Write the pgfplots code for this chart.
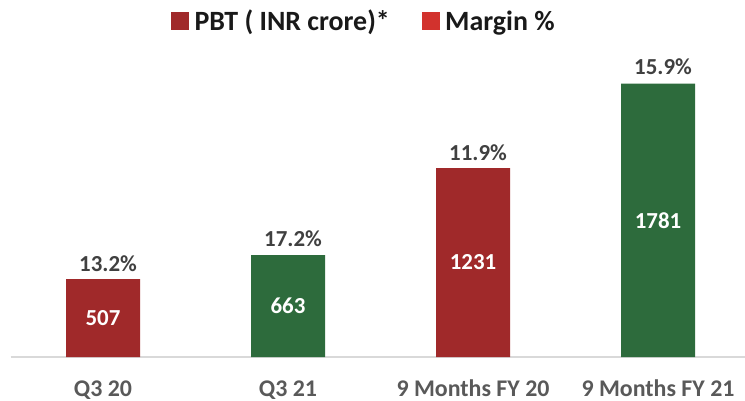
\documentclass[border=0pt]{standalone}
\usepackage{pgfplots}
\pgfplotsset{compat=1.18}
\usepackage{pgfplotstable}
\usepackage{fontspec}
\setmainfont{Carlito}
\definecolor{barred}{HTML}{A0292A}
\definecolor{bargreen}{HTML}{2D6B3C}
\definecolor{legred}{HTML}{D2322D}
\definecolor{axisgray}{HTML}{D9D9D9}
\definecolor{labgray}{HTML}{595959}
\definecolor{pctgray}{HTML}{404040}

\pgfplotstableread{
x y m
0 507 13.2
2 1231 11.9
}\redbars
\pgfplotstableread{
x y m
1 663 17.2
3 1781 15.9
}\greenbars

\begin{document}
\begin{tikzpicture}
\useasboundingbox (0,0) rectangle (745bp,401bp);
\begin{axis}[
  at={(10.5bp,44bp)}, anchor=south west,
  x=185bp, y=0.1535bp,
  xmin=-0.5, xmax=3.48, ymin=0, ymax=2326,
  clip=false,
  axis x line*=bottom, axis y line=none,
  x axis line style={draw=axisgray, line width=1.5bp, -},
  xtick={0,1,2,3},
  xticklabels={Q3 20, Q3 21, 9 Months FY 20, 9 Months FY 21},
  major tick length=0pt,
  xticklabel style={font=\bfseries\fontsize{24}{28}\selectfont, text=labgray, anchor=base, yshift=-39bp},
  /pgf/number format/assume math mode=true,
  /pgf/number format/1000 sep={},
  legend style={at={(0.48,0.941)}, anchor=center, draw=none, fill=none,
    font=\bfseries\fontsize{28}{32}\selectfont, text=black!90,
    /tikz/every even column/.append style={column sep=30bp}},
  legend columns=2,
  legend cell align=left,
]
% value bars (labels centred inside)
\addplot[ybar, bar shift=0pt, bar width=74bp, fill=barred, draw=none, forget plot,
  visualization depends on={y \as \rawy},
  nodes near coords,
  every node near coord/.style={anchor=center, yshift={-0.07704*\rawy}, text=white,
    font=\bfseries\fontsize{23}{26}\selectfont}]
  table[x=x, y=y] {\redbars};
\addplot[ybar, bar shift=0pt, bar width=74bp, fill=bargreen, draw=none, forget plot,
  visualization depends on={y \as \rawy},
  nodes near coords,
  every node near coord/.style={anchor=center, yshift={-0.07704*\rawy}, text=white,
    font=\bfseries\fontsize{23}{26}\selectfont}]
  table[x=x, y=y] {\greenbars};
% margin labels above bars
\addplot[ybar, bar shift=0pt, bar width=74bp, draw=none, fill=none, forget plot,
  point meta=explicit,
  nodes near coords={\pgfmathprintnumber[fixed, fixed zerofill, precision=1]{\pgfplotspointmeta}\%},
  every node near coord/.style={anchor=south, xshift=5bp, yshift=4bp, text=pctgray,
    font=\bfseries\fontsize{23}{26}\selectfont}]
  table[x=x, y=y, meta=m] {\redbars};
\addplot[ybar, bar shift=0pt, bar width=74bp, draw=none, fill=none, forget plot,
  point meta=explicit,
  nodes near coords={\pgfmathprintnumber[fixed, fixed zerofill, precision=1]{\pgfplotspointmeta}\%},
  every node near coord/.style={anchor=south, xshift=5bp, yshift=5bp, text=pctgray,
    font=\bfseries\fontsize{23}{26}\selectfont}]
  table[x=x, y=y, meta=m] {\greenbars};
\addlegendimage{legend image code/.code={\fill[barred] (0bp,-8bp) rectangle (17bp,9bp); \path (21bp,0);}}
\addlegendentry{PBT ( INR crore)*}
\addlegendimage{legend image code/.code={\fill[legred] (0bp,-8bp) rectangle (17bp,9bp); \path (21bp,0);}}
\addlegendentry{Margin \%}
\end{axis}
\end{tikzpicture}
\end{document}
